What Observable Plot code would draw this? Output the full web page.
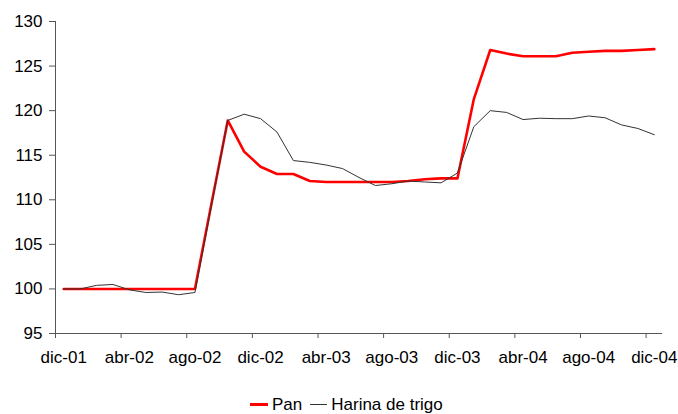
<!DOCTYPE html>
<html>
<head>
<meta charset="utf-8">
<script src="https://cdn.jsdelivr.net/npm/d3@7"></script>
<script src="https://cdn.jsdelivr.net/npm/@observablehq/plot@0.6"></script>
<style>
  html, body { margin: 0; padding: 0; background: #fff; overflow: hidden; }
  #wrap { position: relative; width: 678px; height: 414px; font-family: "Liberation Sans", Arial, sans-serif; }
  #legend { position: absolute; left: 250px; top: 395px; display: flex; align-items: center; font-size: 17px; line-height: 19px; color: #000; white-space: nowrap; }
  .sw { display: inline-block; height: 0; margin-right: 4px; }
</style>
</head>
<body>
<div id="wrap"></div>
<script>
const months = ["dic-01","ene-02","feb-02","mar-02","abr-02","may-02","jun-02","jul-02","ago-02","sep-02","oct-02","nov-02",
  "dic-02","ene-03","feb-03","mar-03","abr-03","may-03","jun-03","jul-03","ago-03","sep-03","oct-03","nov-03",
  "dic-03","ene-04","feb-04","mar-04","abr-04","may-04","jun-04","jul-04","ago-04","sep-04","oct-04","nov-04","dic-04"];
const pan = [100,100,100,100,100,100,100,100,100,109.5,118.9,115.4,
  113.7,112.9,112.9,112.1,112.0,112.0,112.0,112.0,112.0,112.1,112.3,112.4,
  112.4,121.3,126.8,126.4,126.1,126.1,126.1,126.5,126.6,126.7,126.7,126.8,126.9];
const harina = [100.0,100.0,100.4,100.5,99.9,99.6,99.65,99.35,99.6,109.3,118.9,119.6,
  119.1,117.6,114.4,114.2,113.9,113.5,112.5,111.6,111.8,112.1,112.0,111.9,
  113.0,118.2,120.0,119.8,119.0,119.15,119.1,119.1,119.4,119.2,118.4,118.0,117.3];
const tickLabels = ["dic-01","abr-02","ago-02","dic-02","abr-03","ago-03","dic-03","abr-04","ago-04","dic-04"];
const yTicks = [95,100,105,110,115,120,125,130];
const seriesNames = ["Pan","Harina de trigo"];

const tickPos = tickLabels.map(l => months.indexOf(l));
const labelPos = tickPos.map(i => i + 0.5);
const rows = (vals, name) => vals.map((v, i) => ({x: i + 0.5, v, name}));
const dPan = rows(pan, seriesNames[0]);
const dHar = rows(harina, seriesNames[1]);

const axisColor = "#555";
const chart = Plot.plot({
  width: 678,
  height: 395,
  marginLeft: 55,
  marginRight: 16,
  marginTop: 21,
  marginBottom: 62,
  style: {fontSize: "17px", fontFamily: "'Liberation Sans', Arial, sans-serif", color: "#000", background: "#fff", overflow: "visible"},
  x: {type: "linear", domain: [0, months.length]},
  y: {domain: [95, 130]},
  marks: [
    Plot.axisX({ticks: tickPos, tickFormat: () => "", tickSize: 5, stroke: axisColor, label: null}),
    Plot.axisX({ticks: labelPos, tickFormat: x => months[Math.floor(x)], tickSize: 0, tickPadding: 17, fill: "#000", label: null}),
    Plot.axisY({ticks: yTicks, tickSize: 6, tickPadding: 7, stroke: axisColor, fill: "#000", label: null}),
    Plot.ruleX([0], {stroke: axisColor, strokeWidth: 1}),
    Plot.ruleY([95], {stroke: axisColor, strokeWidth: 1}),
    Plot.lineY(dPan, {x: "x", y: "v", stroke: "#ff0000", strokeWidth: 2.6}),
    Plot.lineY(dHar, {x: "x", y: "v", stroke: "#333", strokeWidth: 1})
  ]
});
const wrap = document.getElementById("wrap");
wrap.appendChild(chart);

const legend = document.createElement("div");
legend.id = "legend";
legend.innerHTML =
  `<span class="sw" style="width:18px;border-top:3px solid #ff0000;"></span><span style="margin-right:8px">${seriesNames[0]}</span>` +
  `<span class="sw" style="width:17px;border-top:1px solid #333;"></span><span>${seriesNames[1]}</span>`;
wrap.appendChild(legend);
</script>
</body>
</html>
